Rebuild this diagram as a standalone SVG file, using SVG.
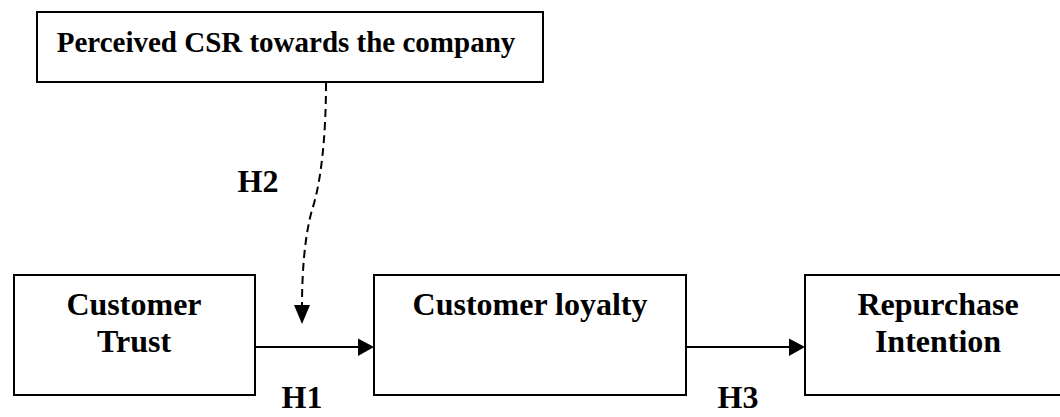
<svg xmlns="http://www.w3.org/2000/svg" width="1060" height="417" viewBox="0 0 1060 417">
<style>
.box{fill:#fff;stroke:#000;stroke-width:2}
.t{font-family:"Liberation Serif","Times New Roman",serif;font-weight:bold;fill:#000;text-anchor:middle}
.l{font-size:32px}
.edge{stroke:#000;stroke-width:2;fill:none}
.dash{stroke-dasharray:8,5}
</style>
<rect width="1060" height="417" fill="#fff"/>
<g id="csr">
<rect class="box" x="37" y="12" width="506" height="70"/>
<text class="t" x="286" y="52" font-size="29">Perceived CSR towards the company</text>
</g>
<g id="trust">
<rect class="box" x="14" y="275" width="241" height="120"/>
<text class="t l" x="134" y="315">Customer</text>
<text class="t l" x="134" y="352">Trust</text>
</g>
<g id="loyalty">
<rect class="box" x="374" y="275" width="312" height="120"/>
<text class="t l" x="530" y="315">Customer loyalty</text>
</g>
<g id="repurchase">
<rect class="box" x="805" y="275" width="262" height="120"/>
<text class="t l" x="938" y="315">Repurchase</text>
<text class="t l" x="938" y="352">Intention</text>
</g>
<g id="connectors">
<path class="edge dash" d="M326,83 C326,130 322,180 312,210 C305,235 302,270 302,306"/>
<polygon points="294,305 310,305 302,324" fill="#000"/>
<line class="edge" x1="255" y1="347" x2="359" y2="347"/>
<polygon points="358,338.5 358,356 374,347" fill="#000"/>
<line class="edge" x1="686" y1="347" x2="790" y2="347"/>
<polygon points="789,338.5 789,356 805,347" fill="#000"/>
<text class="t l" x="258" y="192">H2</text>
<text class="t l" x="302" y="408">H1</text>
<text class="t l" x="738" y="408">H3</text>
</g>
</svg>
